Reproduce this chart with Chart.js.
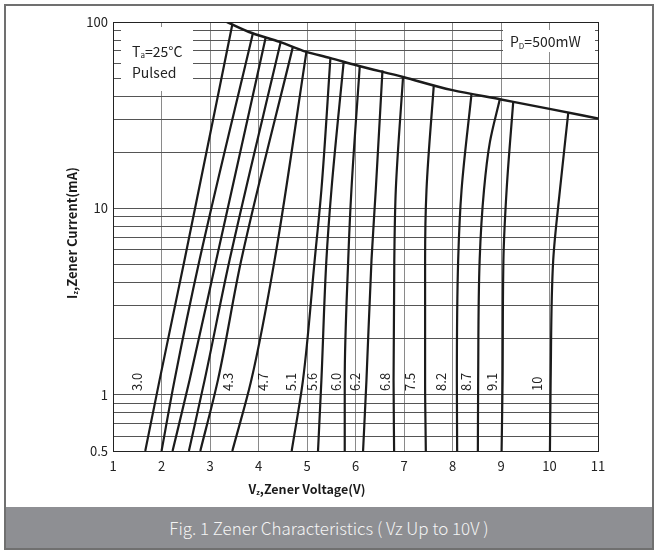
<!DOCTYPE html>
<html><head><meta charset="utf-8">
<script src="https://cdn.jsdelivr.net/npm/chart.js@4.4.1/dist/chart.umd.min.js"></script>
<style>
html,body{margin:0;padding:0;background:#fff;}
#wrap{position:relative;width:655px;height:550px;overflow:hidden;}
#frame{position:absolute;left:4px;top:4px;width:650px;height:546px;box-sizing:border-box;border:2px solid #707070;}
#cap{position:absolute;left:6px;top:507px;width:646px;height:41px;background:#8e8f93;color:#f4f4f4;font:300 17px "Noto Sans CJK SC","Noto Sans",sans-serif;text-align:center;line-height:41px;white-space:nowrap;}
#c{position:absolute;left:0;top:0;}
</style></head>
<body><div id="wrap"><div id="frame"></div><canvas id="c" width="655" height="505"></canvas><div id="cap">Fig. 1 Zener Characteristics ( Vz Up to 10V )</div></div>
<script>
// ---- data ----
const xTickValues = [1,2,3,4,5,6,7,8,9,10,11];
const yGridValues = [0.5,0.6,0.7,0.8,0.9,1,2,3,4,5,6,7,8,9,10,20,30,40,50,60,70,80,90,100];
const yLabelValues = [0.5,1,10,100];

const curveNames = ['3.0','3.3','3.6','3.9','4.3','4.7','5.1','5.6','6.0','6.2','6.8','7.5','8.2','8.7','9.1','10'];

const v_3_0 = [1.665, 1.960, 2.476, 3.460];   const i_3_0 = [0.5, 1.2, 5.3, 97];
const v_3_3 = [2.001, 2.269, 2.785, 3.885];   const i_3_3 = [0.5, 1.2, 5.3, 87];
const v_3_6 = [2.228, 2.579, 3.130, 4.148];   const i_3_6 = [0.5, 1.2, 5.3, 82.5];
const v_3_9 = [2.565, 2.889, 3.405, 4.457];   const i_3_9 = [0.5, 1.2, 5.3, 78];
const v_4_3 = [2.800, 3.163, 3.646, 4.711];   const i_4_3 = [0.5, 1.2, 5.3, 74];
const v_4_7 = [3.460, 3.852, 4.333, 4.988];   const i_4_7 = [0.5, 1.2, 5.3, 69.1];
const v_5_1 = [4.684, 4.917, 5.159, 5.297, 5.483];   const i_5_1 = [0.5, 1.2, 5.3, 12.6, 64.2];
const v_5_6 = [5.227, 5.297, 5.400, 5.504, 5.757];   const i_5_6 = [0.5, 1.2, 5.3, 12.6, 61.5];
const v_6_0 = [5.778, 5.778, 5.850, 5.916, 6.088];   const i_6_0 = [0.5, 1.2, 5.3, 12.6, 58.1];
const v_6_2 = [6.156, 6.226, 6.330, 6.418, 6.556];   const i_6_2 = [0.5, 1.2, 5.3, 12.6, 55.0];
const v_6_8 = [6.796, 6.785, 6.800, 6.831, 6.981];   const i_6_8 = [0.5, 1.2, 5.3, 12.6, 51.0];
const v_7_5 = [7.450, 7.435, 7.435, 7.464, 7.615];   const i_7_5 = [0.5, 1.2, 5.3, 12.6, 46.0];
const v_8_2 = [8.096, 8.090, 8.117, 8.187, 8.393];   const i_8_2 = [0.5, 1.2, 5.3, 12.6, 41.4];
const v_8_7 = [8.523, 8.529, 8.560, 8.650, 8.770, 8.977]; const i_8_7 = [0.5, 1.2, 5.3, 12.6, 22.6, 38.6];
const v_9_1 = [9.012, 9.033, 9.050, 9.116, 9.252];   const i_9_1 = [0.5, 1.2, 5.3, 12.6, 37.3];
const v_10  = [10.009, 10.024, 10.077, 10.216, 10.387]; const i_10 = [0.5, 1.2, 5.3, 12.6, 32.6];

const curveV = [v_3_0,v_3_3,v_3_6,v_3_9,v_4_3,v_4_7,v_5_1,v_5_6,v_6_0,v_6_2,v_6_8,v_7_5,v_8_2,v_8_7,v_9_1,v_10];
const curveI = [i_3_0,i_3_3,i_3_6,i_3_9,i_4_3,i_4_7,i_5_1,i_5_6,i_6_0,i_6_2,i_6_8,i_7_5,i_8_2,i_8_7,i_9_1,i_10];

// power dissipation limit (PD = 500mW envelope)
const limitV = [3.35, 3.88, 4.44, 4.99, 5.47, 6.02, 6.98, 8.0, 9.0, 10.0, 11.0];
const limitI = [100, 87, 78.2, 69.1, 64.2, 58.6, 50.7, 43.1, 38.4, 34.2, 30.4];

// curve labels
const labelTexts = ['3.0','4.3','4.7','5.1','5.6','6.0','6.2','6.8','7.5','8.2','8.7','9.1','10'];
const labelV =     [1.506, 3.370, 4.092, 4.678, 5.103, 5.607, 5.985, 6.604, 7.120, 7.774, 8.276, 8.806, 9.735];
const labelAnchorI = 1.05;

// ---- chart ----
const FONT = '"Noto Sans CJK SC","Noto Sans",sans-serif';
const datasets = curveV.map((vs, k) => ({
  label: curveNames[k],
  data: vs.map((v, j) => ({x: v, y: curveI[k][j]})),
  showLine: true, borderColor: '#1b1b1b', borderWidth: 2.2,
  pointRadius: 0, cubicInterpolationMode: 'monotone', fill: false
}));
datasets.push({
  label: 'PD',
  data: limitV.map((v, j) => ({x: v, y: limitI[j]})),
  showLine: true, borderColor: '#1b1b1b', borderWidth: 2.5,
  pointRadius: 0, cubicInterpolationMode: 'monotone', fill: false
});

function drawSub(ctx, parts, x, y, size, weight, align) {
  const main = weight + ' ' + size + 'px ' + FONT;
  const sub = weight + ' ' + Math.round(size * 0.55) + 'px ' + FONT;
  let w = 0;
  parts.forEach(p => { ctx.font = p.sub ? sub : main; w += ctx.measureText(p.t).width; });
  let cx = align === 'center' ? x - w / 2 : x;
  ctx.textAlign = 'left';
  ctx.textBaseline = 'middle';
  parts.forEach(p => {
    ctx.font = p.sub ? sub : main;
    ctx.fillText(p.t, cx, p.sub ? y + size * 0.28 : y);
    cx += ctx.measureText(p.t).width;
  });
}

const extras = {
  id: 'extras',
  beforeDatasetsDraw(chart) {
    const {ctx, chartArea: ca} = chart;
    ctx.save();
    ctx.fillStyle = '#fff';
    ctx.fillRect(ca.left + 8, ca.top + 5, 72, 64);
    ctx.fillRect(503, ca.top + 8, 92, 22);
    ctx.fillStyle = '#222';
    drawSub(ctx, [{t:'T'},{t:'a',sub:true},{t:'=25°C'}], 132, 51.5, 14, 'normal', 'left');
    drawSub(ctx, [{t:'Pulsed'}], 132, 72.5, 14, 'normal', 'left');
    drawSub(ctx, [{t:'P'},{t:'D',sub:true},{t:'=500mW'}], 510, 42, 14, 'normal', 'left');
    ctx.restore();
  },
  afterDatasetsDraw(chart) {
    const {ctx} = chart;
    const xs = chart.scales.x, ys = chart.scales.y;
    ctx.save();
    ctx.fillStyle = '#222';
    ctx.font = '13px ' + FONT;
    labelTexts.forEach((t, k) => {
      const px = xs.getPixelForValue(labelV[k]);
      const py = ys.getPixelForValue(labelAnchorI);
      ctx.save();
      ctx.translate(px, py);
      ctx.rotate(-Math.PI / 2);
      ctx.textAlign = 'left';
      ctx.textBaseline = 'middle';
      ctx.fillText(t, 0, 0);
      ctx.restore();
    });
    // axis titles
    ctx.fillStyle = '#1a1a1a';
    drawSub(ctx, [{t:'V'},{t:'z',sub:true},{t:',Zener Voltage(V)'}], 307, 489, 12.5, 'bold', 'center');
    ctx.save();
    ctx.translate(72, 233);
    ctx.rotate(-Math.PI / 2);
    drawSub(ctx, [{t:'I'},{t:'z',sub:true},{t:',Zener Current(mA)'}], 0, 0, 13, 'bold', 'center');
    ctx.restore();
    ctx.restore();
  }
};

new Chart(document.getElementById('c'), {
  type: 'scatter',
  data: {datasets},
  options: {
    indexAxis: 'y',
    responsive: false, animation: false, devicePixelRatio: 1,
    layout: {padding: {top: 22, right: 57, left: 0, bottom: 0}},
    plugins: {legend: {display: false}, tooltip: {enabled: false}},
    scales: {
      x: {
        type: 'linear', min: 1, max: 11,
        afterBuildTicks: s => { s.ticks = xTickValues.map(v => ({value: v})); },
        afterFit: s => { s.height = 54; },
        grid: {drawTicks: false, lineWidth: 1, color: c => (c.tick && c.tick.value === 11) ? '#222' : '#8a8a8a'},
        border: {color: '#222', width: 1},
        ticks: {autoSkip: false, maxRotation: 0, padding: 7, color: '#222', font: {family: FONT, size: 13},
                callback: v => String(v)}
      },
      y: {
        type: 'logarithmic', min: 0.5, max: 100,
        afterBuildTicks: s => { s.ticks = yGridValues.map(v => ({value: v})); },
        afterFit: s => { s.width = 113; },
        grid: {drawTicks: false, lineWidth: 1, color: c => (c.tick && c.tick.value === 100) ? '#222' : '#555'},
        border: {color: '#222', width: 1},
        ticks: {autoSkip: false, padding: 5, color: '#222', font: {family: FONT, size: 13},
                callback: v => yLabelValues.includes(v) ? String(v) : ''}
      }
    }
  },
  plugins: [extras]
});
</script>
</body></html>
